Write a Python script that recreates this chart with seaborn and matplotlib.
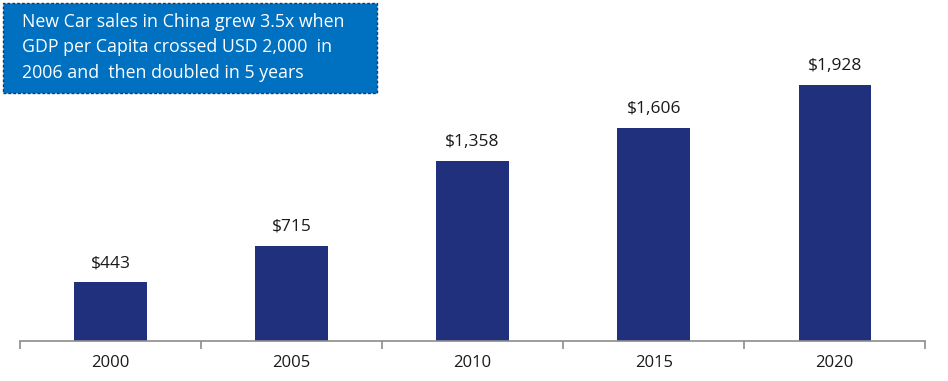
import matplotlib
matplotlib.use("Agg")
import matplotlib.pyplot as plt
import seaborn as sns
import pandas as pd
from matplotlib.patches import Rectangle

years = ["2000", "2005", "2010", "2015", "2020"]
gdp_per_capita = [443, 715, 1358, 1606, 1928]
value_labels = ["$443", "$715", "$1,358", "$1,606", "$1,928"]
callout_lines = [
    "New Car sales in China grew 3.5x when",
    "GDP per Capita crossed USD 2,000  in",
    "2006 and  then doubled in 5 years",
]

sns.set_style("white")
plt.rcParams["font.family"] = ["Open Sans", "DejaVu Sans"]

df = pd.DataFrame({"year": years, "value": gdp_per_capita})

fig = plt.figure(figsize=(9.48, 3.81), dpi=100)
ax = fig.add_axes([0.021, 0.105, 0.955, 0.836])

sns.barplot(data=df, x="year", y="value", color="#21307C", width=0.4,
            saturation=1, ax=ax, edgecolor="none")

for i, (v, lab) in enumerate(zip(gdp_per_capita, value_labels)):
    ax.annotate(lab, (i, v), xytext=(0, 8), textcoords="offset points",
                ha="center", va="bottom", fontsize=12.5, color="#1a1a1a")

ax.set_xlim(-0.5, len(years) - 0.5)
ax.set_ylim(0, 2400)
ax.set_xlabel("")
ax.set_ylabel("")
ax.set_yticks([])
for side in ("top", "right", "left"):
    ax.spines[side].set_visible(False)
ax.spines["bottom"].set_color("#8c8c8c")
ax.spines["bottom"].set_linewidth(1.2)

# category separators drawn as small downward ticks
ax.set_xticks([i - 0.5 for i in range(len(years) + 1)], minor=True)
ax.tick_params(axis="x", which="minor", length=6, width=1.2, color="#8c8c8c",
               direction="out", bottom=True)
ax.tick_params(axis="x", which="major", length=0, pad=10, labelsize=12,
               labelcolor="#1a1a1a")

# callout box in the upper left corner
fig.patches.append(Rectangle((3 / 948, 1 - 93 / 381), 374 / 948, 90 / 381,
                             transform=fig.transFigure, facecolor="#0070C0",
                             edgecolor="#1F3864", linewidth=1,
                             linestyle=(0, (2, 1.5)), zorder=5))
for k, line in enumerate(callout_lines):
    fig.text(22 / 948, 1 - (22 + 25.5 * k) / 381, line, color="white",
             fontsize=12.8, fontweight="medium", ha="left", va="center",
             zorder=6)

fig.savefig("out.png", dpi=100)
